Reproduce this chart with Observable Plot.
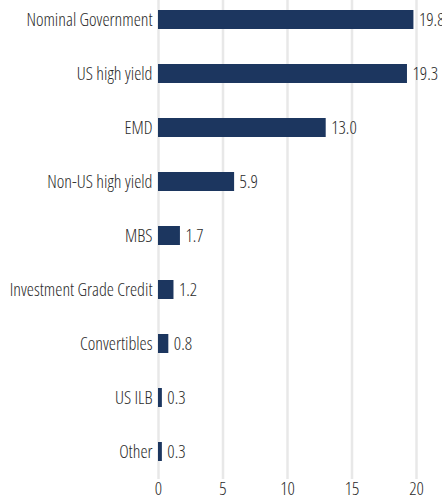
<!DOCTYPE html>
<html>
<head>
<meta charset="utf-8">
<script src="https://cdn.jsdelivr.net/npm/d3@7"></script>
<script src="https://cdn.jsdelivr.net/npm/@observablehq/plot@0.6"></script>
<style>
  html, body { margin: 0; padding: 0; background: #fff; overflow: hidden; }
  #chart svg { overflow: visible; display: block; }
  #chart svg text { font-stretch: condensed; font-weight: 300; }
</style>
</head>
<body>
<div id="chart"></div>
<script>
const categories = ["Nominal Government", "US high yield", "EMD", "Non-US high yield", "MBS", "Investment Grade Credit", "Convertibles", "US ILB", "Other"];
const values = [19.8, 19.3, 13.0, 5.9, 1.7, 1.2, 0.8, 0.3, 0.3];
const xTicks = [0, 5, 10, 15, 20];

const data = categories.map((c, i) => ({category: c, value: values[i]}));
const font = '"Open Sans", "Roboto Condensed", sans-serif';
const fs = 18;

const chart = Plot.plot({
  width: 442,
  height: 502,
  marginLeft: 158,
  marginRight: 26,
  marginTop: 0,
  marginBottom: 23,
  style: {fontFamily: font, fontSize: fs + "px", color: "#2b2b2b", background: "#fff"},
  x: {domain: [0, 20], ticks: xTicks, tickSize: 0, tickPadding: 3, label: null},
  y: {domain: categories, paddingInner: 0.65, paddingOuter: 0.26, align: 0.34, tickSize: 0, tickPadding: 6, label: null},
  marks: [
    Plot.gridX(xTicks, {stroke: "#e8e8e8", strokeOpacity: 1, strokeWidth: 2.5}),
    Plot.barX(data, {x: "value", y: "category", fill: "#1c365f"}),
    Plot.text(data, {x: "value", y: "category", text: d => d.value.toFixed(1), textAnchor: "start", dx: 5, fill: "#2b2b2b", fontSize: fs}),
    Plot.axisX(xTicks, {tickSize: 0, tickPadding: 3, fontSize: fs, label: null}),
    Plot.axisY({tickSize: 0, tickPadding: 6, fontSize: fs, label: null})
  ]
});
document.getElementById("chart").appendChild(chart);
</script>
</body>
</html>
